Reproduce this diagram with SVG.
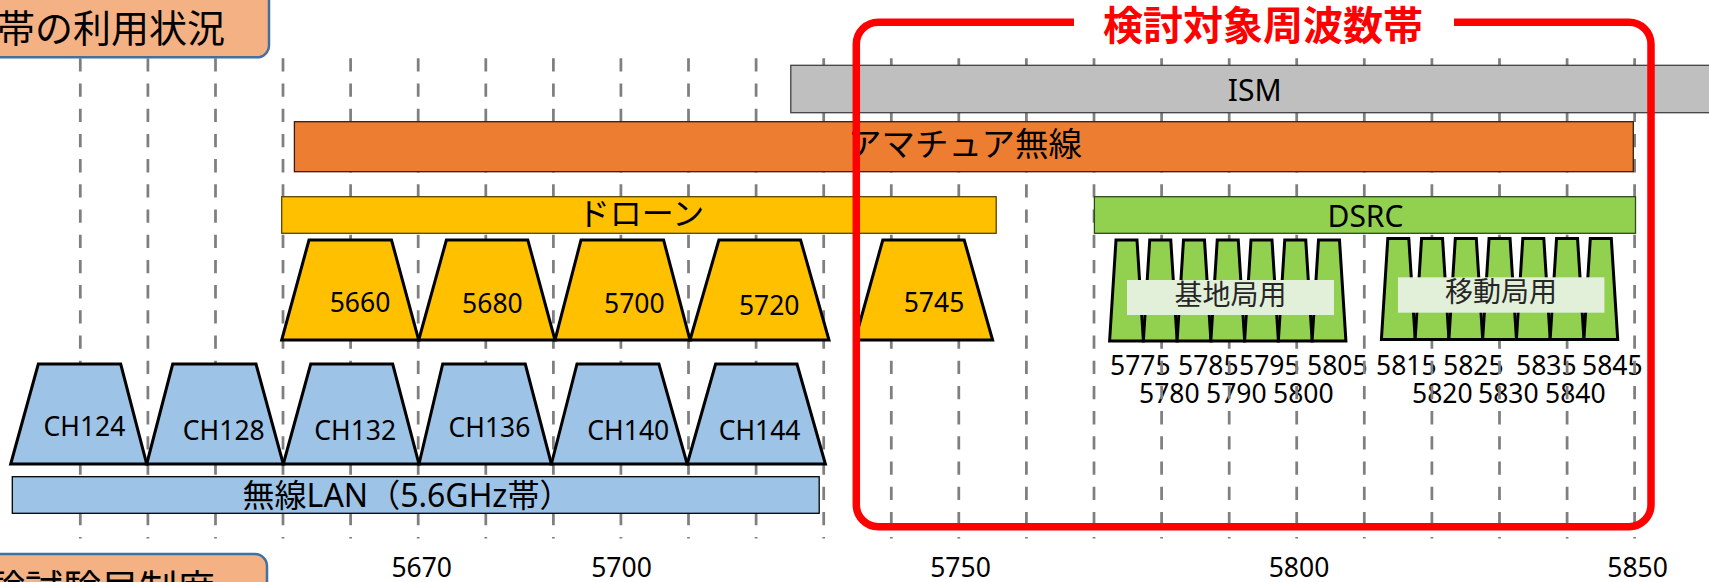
<svg xmlns="http://www.w3.org/2000/svg" width="1709" height="582" viewBox="0 0 1709 582">
<style>
.grid{stroke:#7F7F7F;stroke-width:2.75;stroke-dasharray:13.3 11.9;fill:none}
.tY{fill:#FFC000;stroke:#000;stroke-width:3;stroke-linejoin:miter}
.tB{fill:#9DC3E6;stroke:#000;stroke-width:3;stroke-linejoin:miter}
.tG{fill:#92D050;stroke:#000;stroke-width:3;stroke-linejoin:miter}
.lat{font-family:"Noto Sans","Noto Sans CJK JP",sans-serif}
.cjk{font-family:"Noto Sans CJK JP",sans-serif}
.blk{fill:#000}
.gry{fill:#262626}
.red{fill:#FF0000;font-weight:bold}
.mid{text-anchor:middle}
.f26{font-size:26.5px}
.title{fill:#F4B183;stroke:#41719C;stroke-width:2.5}
.lbl{fill:#E2F0D9}
</style>

<g id="title-usage">
<rect class="title" x="-20" y="-20" width="289" height="77.3" rx="12"/>
<text class="cjk blk" x="-3" y="42" font-size="38">帯の利用状況</text>
</g>
<g id="title-system">
<rect class="title" x="-20" y="554" width="287" height="60" rx="12"/>
<text class="cjk blk" x="-13" y="602" font-size="38">験試験局制度</text>
</g>

<g id="axis-labels" class="lat blk f26 mid">
<text x="421.7" y="577">5670</text>
<text x="621.5" y="577">5700</text>
<text x="960.5" y="577">5750</text>
<text x="1299" y="577">5800</text>
<text x="1637.6" y="577">5850</text>
</g>

<g id="dsrc-freq-labels" class="lat blk f26">
<text x="1110" y="375">5775</text>
<text x="1178" y="375">5785</text>
<text x="1239" y="375">5795</text>
<text x="1307" y="375">5805</text>
<text x="1376" y="375">5815</text>
<text x="1443" y="375">5825</text>
<text x="1516" y="375">5835</text>
<text x="1582" y="375">5845</text>
<text x="1139" y="403">5780</text>
<text x="1206" y="403">5790</text>
<text x="1273" y="403">5800</text>
<text x="1412" y="403">5820</text>
<text x="1478" y="403">5830</text>
<text x="1545" y="403">5840</text>
</g>

<g id="gridlines">
<path class="grid" d="M80.3 58.3V538.5M147.9 58.3V538.5M215.5 58.3V538.5M283 58.3V538.5M350.6 58.3V538.5M418.2 58.3V538.5M485.8 58.3V538.5M553.4 58.3V538.5M620.9 58.3V538.5M688.5 58.3V538.5M756.1 58.3V538.5M823.7 58.3V538.5M891.3 58.3V538.5M958.8 58.3V538.5M1026.4 58.3V538.5M1094 58.3V538.5M1161.6 58.3V538.5M1229.2 58.3V538.5M1296.7 58.3V538.5M1364.3 58.3V538.5M1431.9 58.3V538.5M1499.5 58.3V538.5M1567.1 58.3V538.5M1634.6 58.3V538.5"/>
</g>

<g id="ism">
<rect x="790.8" y="65.3" width="940" height="47.4" fill="#BFBFBF" stroke="#404040" stroke-width="1.3"/>
<text class="lat blk mid" x="1254.7" y="101" font-size="30">ISM</text>
</g>
<g id="amateur">
<rect x="294.4" y="121.7" width="1338.9" height="50" fill="#ED7D31" stroke="#3A1C08" stroke-width="1.3"/>
<text class="cjk blk mid" x="965" y="156" font-size="33.5">アマチュア無線</text>
</g>
<g id="drone">
<rect x="281.7" y="196.7" width="714.5" height="36.6" fill="#FFC000" stroke="#5A4500" stroke-width="1.3"/>
<text class="cjk blk mid" x="641" y="225" font-size="32">ドローン</text>
</g>
<g id="dsrc">
<rect x="1094.4" y="196.7" width="541.1" height="36.6" fill="#92D050" stroke="#2F4A1A" stroke-width="1.3"/>
<text class="lat blk mid" x="1365.5" y="226.7" font-size="30">DSRC</text>
</g>

<g id="drone-5660"><polygon class="tY" points="281.7,340 309,240 391.5,240 418.7,340"/><text class="lat blk f26 mid" x="360" y="312.3">5660</text></g>
<g id="drone-5680"><polygon class="tY" points="418.7,340 446.4,240 527.8,240 555,340"/><text class="lat blk f26 mid" x="492.4" y="313.3">5680</text></g>
<g id="drone-5700"><polygon class="tY" points="555,340 581,240 663.6,240 690,340"/><text class="lat blk f26 mid" x="634.3" y="312.7">5700</text></g>
<g id="drone-5720"><polygon class="tY" points="690,340 718.9,240 800.6,240 829,340"/><text class="lat blk f26 mid" x="769.2" y="315">5720</text></g>
<g id="drone-5745"><polygon class="tY" points="855,340 882.8,240 964.2,240 992.6,340"/><text class="lat blk f26 mid" x="934" y="311.7">5745</text></g>

<g id="ch124"><polygon class="tB" points="10.7,464 38.3,364 120.7,364 146.7,464"/><text class="lat blk f26 mid" x="84.5" y="436">CH124</text></g>
<g id="ch128"><polygon class="tB" points="146.7,464 172.7,364 256,364 283.3,464"/><text class="lat blk f26 mid" x="223.8" y="440">CH128</text></g>
<g id="ch132"><polygon class="tB" points="283.3,464 310.7,364 392.7,364 419,464"/><text class="lat blk f26 mid" x="355.2" y="440">CH132</text></g>
<g id="ch136"><polygon class="tB" points="419,464 442.7,364 525.3,364 551.4,464"/><text class="lat blk f26 mid" x="489.5" y="436.7">CH136</text></g>
<g id="ch140"><polygon class="tB" points="551.4,464 577,364 658.9,364 687.2,464"/><text class="lat blk f26 mid" x="628.3" y="440">CH140</text></g>
<g id="ch144"><polygon class="tB" points="687.2,464 715.6,364 797,364 825.4,464"/><text class="lat blk f26 mid" x="759.6" y="440">CH144</text></g>

<g id="wlan">
<rect x="12.3" y="476.7" width="806.9" height="36.6" fill="#9DC3E6" stroke="#000" stroke-width="1.3"/>
<text class="lat blk mid" x="407" y="507" font-size="32">無線LAN（5.6GHz帯）</text>
</g>

<g id="dsrc-base">
<polygon class="tG" points="1109.6,341 1116,240 1137,240 1143.4,341"/>
<polygon class="tG" points="1143.35,341 1149.75,240 1170.75,240 1177.15,341"/>
<polygon class="tG" points="1177.1,341 1183.5,240 1204.5,240 1210.9,341"/>
<polygon class="tG" points="1210.85,341 1217.25,240 1238.25,240 1244.65,341"/>
<polygon class="tG" points="1244.6,341 1251,240 1272,240 1278.4,341"/>
<polygon class="tG" points="1278.35,341 1284.75,240 1305.75,240 1312.15,341"/>
<polygon class="tG" points="1312.1,341 1318.5,240 1339.5,240 1345.9,341"/>
<rect class="lbl" x="1127" y="280" width="207" height="35"/>
<text class="cjk gry mid" x="1230.5" y="305" font-size="28">基地局用</text>
</g>
<g id="dsrc-mobile">
<polygon class="tG" points="1381.4,339.5 1387.8,238.5 1408.8,238.5 1415.2,339.5"/>
<polygon class="tG" points="1415.15,339.5 1421.55,238.5 1442.55,238.5 1448.95,339.5"/>
<polygon class="tG" points="1448.9,339.5 1455.3,238.5 1476.3,238.5 1482.7,339.5"/>
<polygon class="tG" points="1482.65,339.5 1489.05,238.5 1510.05,238.5 1516.45,339.5"/>
<polygon class="tG" points="1516.4,339.5 1522.8,238.5 1543.8,238.5 1550.2,339.5"/>
<polygon class="tG" points="1550.15,339.5 1556.55,238.5 1577.55,238.5 1583.95,339.5"/>
<polygon class="tG" points="1583.9,339.5 1590.3,238.5 1611.3,238.5 1617.7,339.5"/>
<rect class="lbl" x="1398" y="277.3" width="206.4" height="35.4"/>
<text class="cjk gry mid" x="1501" y="302" font-size="28">移動局用</text>
</g>

<g id="target-band">
<path d="M1074 22.2H878.3A22 22 0 0 0 856.3 44.2V504.7A22 22 0 0 0 878.3 526.7H1629A22 22 0 0 0 1651 504.7V44.2A22 22 0 0 0 1629 22.2H1454" fill="none" stroke="#FF0000" stroke-width="7.5"/>
<text class="cjk red mid" x="1263" y="40" font-size="40">検討対象周波数帯</text>
</g>
</svg>
